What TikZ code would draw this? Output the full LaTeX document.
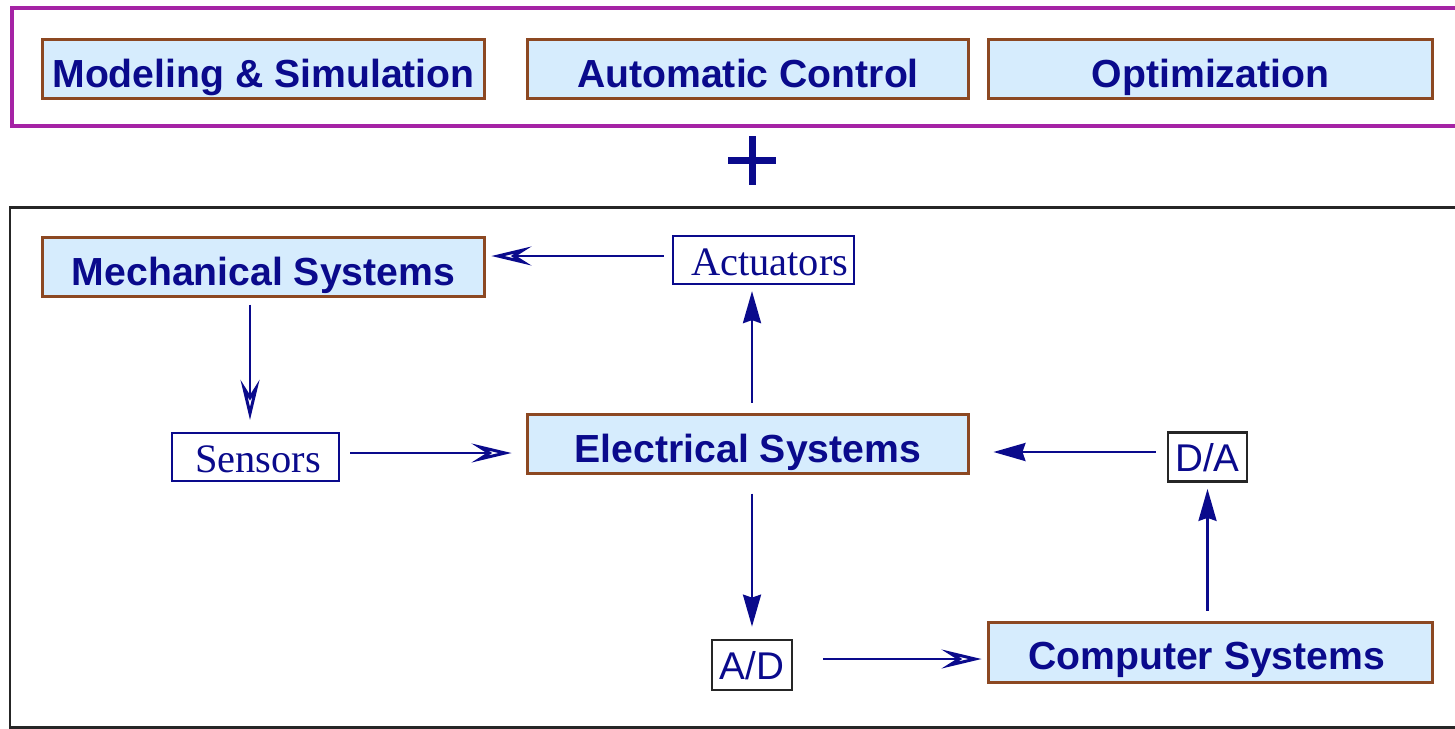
\documentclass[tikz,border=0pt]{standalone}
\usepackage{fontspec}
\setmainfont{Liberation Serif}
\setsansfont{Liberation Sans}
\usetikzlibrary{arrows.meta}
\definecolor{navytext}{RGB}{10,10,140}
\definecolor{boxfill}{RGB}{214,236,253}
\definecolor{boxedge}{RGB}{140,72,34}
\definecolor{frameviolet}{RGB}{165,35,165}
\tikzset{
  bigbox/.style={draw=boxedge, line width=0.06cm, fill=boxfill, text=navytext,
    font=\sffamily\bfseries\fontsize{22.3}{26}\selectfont, inner sep=0pt,
    minimum height=1.18cm, text height=0.74cm, text depth=0pt},
  serifbox/.style={draw=navytext, line width=0.045cm, fill=white, text=navytext,
    font=\rmfamily\fontsize{23}{26}\selectfont, inner sep=0pt,
    minimum height=0.96cm, text height=0.6cm, text depth=0pt},
  convbox/.style={draw=black!85, line width=0.055cm, fill=white, text=navytext,
    font=\sffamily\fontsize{22}{26}\selectfont, inner sep=0pt,
    minimum height=0.98cm, text height=0.58cm, text depth=0pt},
  openarr/.style={draw=navytext, line width=0.05cm,
    -{Stealth[open, length=0.8cm, width=0.38cm, inset=0.3cm, line width=0.06cm]}},
  fillarr/.style={draw=navytext, line width=0.055cm,
    -{Stealth[length=0.64cm, width=0.36cm, inset=0.06cm]}},
}
\begin{document}
\begin{tikzpicture}[x=0.02cm, y=-0.02cm]
  \useasboundingbox (0,0) rectangle (1455,728);
  \clip (0,0) rectangle (1455,728);

  % outer frames (open to the right)
  \draw[frameviolet, line width=0.07cm] (12,8) rectangle (1480,126);
  \draw[black!85, line width=0.06cm] (10,207) rectangle (1480,727);

  % methods
  \node[bigbox, minimum width=8.86cm] (model) at (263.5,68.5) {Modeling \& Simulation};
  \node[bigbox, minimum width=8.84cm] (ctrl)  at (748,68.5)   {Automatic Control};
  \node[bigbox, minimum width=8.90cm] (optim) at (1210.5,68.5) {Optimization};

  % plus sign
  \draw[navytext, line width=0.14cm] (728,160) -- (776,160);
  \draw[navytext, line width=0.14cm] (752,136) -- (752,185);

  % systems
  \node[bigbox, minimum width=8.86cm] (mech) at (263.5,266.5) {Mechanical Systems};
  \node[bigbox, minimum width=8.84cm] (elec) at (748,443.5)   {Electrical Systems};
  \node[bigbox, minimum width=8.90cm, minimum height=1.2cm, text height=0.68cm] (comp) at (1210.5,652) {\hspace{-0.15cm}Computer Systems};

  \node[serifbox, minimum width=3.62cm] (act)  at (763.5,260) {\hspace{0.25cm}Actuators};
  \node[serifbox, minimum width=3.34cm] (sens) at (255.5,457) {\hspace{0.1cm}Sensors};
  \node[convbox, minimum width=1.58cm] (da) at (1207.5,457) {D/A};
  \node[convbox, minimum width=1.60cm, minimum height=1.0cm, text height=0.56cm] (ad) at (752,665) {A/D};

  % signal flow
  \draw[openarr] ([xshift=-0.16cm, yshift=0.08cm]act.west) -- ([xshift=0.1cm, yshift=0.08cm]act.west -| mech.east);
  \draw[openarr, shorten <=0.14cm, shorten >=0.24cm] ([xshift=-0.27cm]mech.south) -- ([xshift=-0.27cm]mech.south |- sens.north);
  \draw[openarr, shorten <=0.2cm, shorten >=0.28cm] ([yshift=0.08cm]sens.east) -- ([yshift=0.08cm]sens.east -| elec.west);
  \draw[fillarr, shorten <=0.2cm, shorten >=0.12cm] ([xshift=0.08cm]elec.north) -- ([xshift=0.08cm]elec.north |- act.south);
  \draw[fillarr, shorten <=0.38cm, shorten >=0.24cm] ([xshift=0.08cm]elec.south) -- ([xshift=0.08cm]elec.south |- ad.north);
  \draw[openarr, shorten <=0.6cm, shorten >=0.1cm] ([yshift=0.12cm]ad.east) -- ([yshift=0.12cm]ad.east -| comp.west);
  \draw[fillarr, shorten <=0.2cm, shorten >=0.12cm] (comp.north -| da.south) -- (da.south);
  \draw[fillarr, shorten <=0.22cm, shorten >=0.46cm] ([yshift=0.1cm]da.west) -- ([yshift=0.1cm]da.west -| elec.east);
\end{tikzpicture}
\end{document}
